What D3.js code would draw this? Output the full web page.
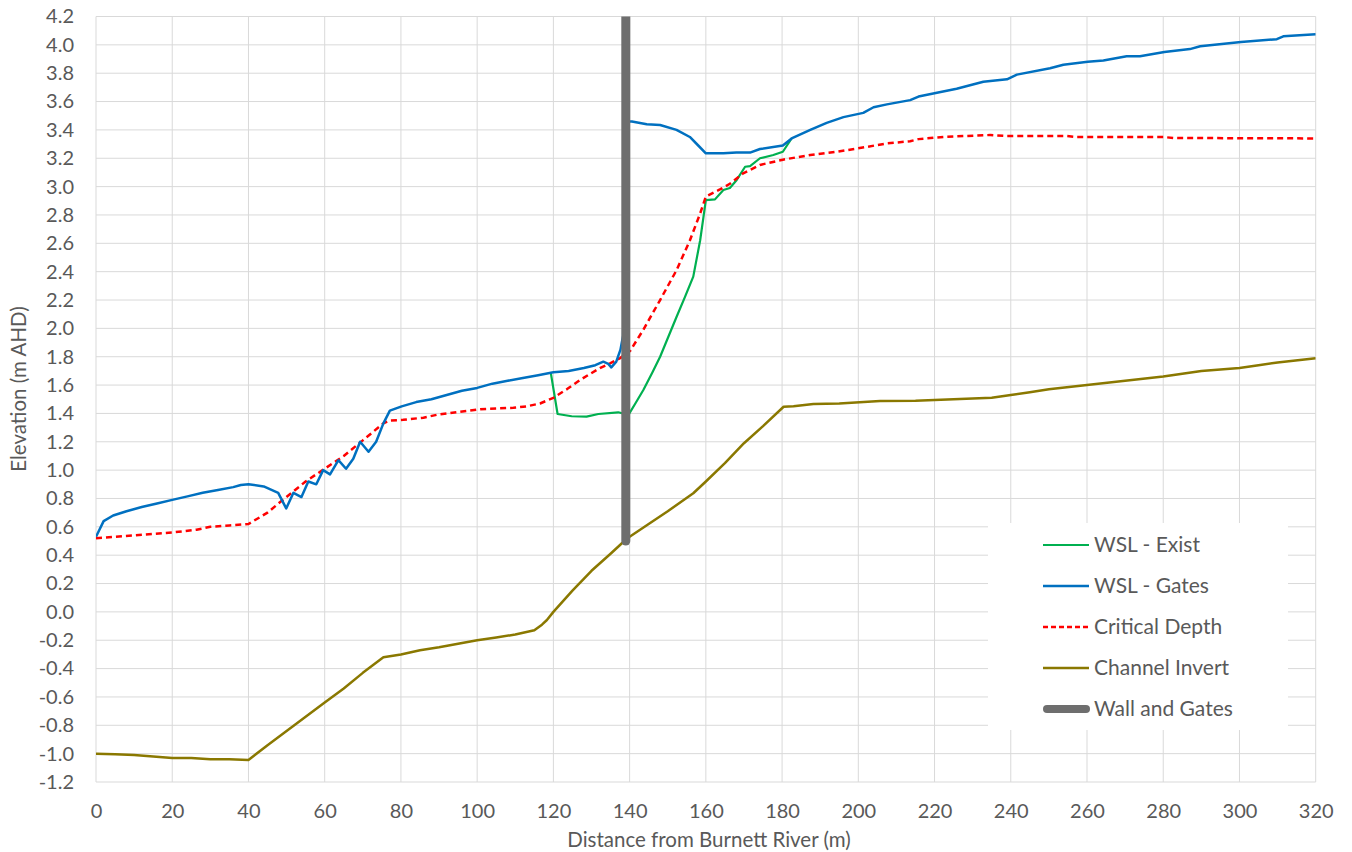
<!DOCTYPE html>
<html>
<head>
<meta charset="utf-8">
<script src="https://cdn.jsdelivr.net/npm/d3@7"></script>
<style>
  body { margin: 0; background: #fff; }
  svg text { font-family: Lato, "Liberation Sans", sans-serif; fill: #595959; }
</style>
</head>
<body>
<svg id="canvas"></svg>
<script>
// distance (m), elevation (m AHD)
const wslExist = [[119.3,1.69],[121.1,1.396],[124.8,1.38],[128.7,1.377],[131.8,1.396],[137,1.408],[139.7,1.39],[141.5,1.47],[143.6,1.565],[146,1.69],[148,1.80],[150,1.93],[152.3,2.08],[154.5,2.22],[156.7,2.365],[158.5,2.62],[160,2.905],[162.4,2.91],[164.6,2.976],[166.3,2.99],[168.1,3.047],[170.3,3.14],[171.6,3.145],[174.2,3.2],[177.7,3.223],[180.2,3.246],[182.5,3.34]];

const wslGates = [[0,0.53],[2,0.64],[4.5,0.68],[8,0.71],[12,0.74],[16,0.765],[20,0.79],[24,0.815],[28,0.84],[32,0.86],[36,0.88],[38,0.895],[40,0.90],[44,0.885],[47.8,0.84],[49.9,0.73],[51.8,0.84],[53.9,0.81],[55.7,0.92],[57.8,0.90],[59.6,1.00],[61.4,0.97],[63.6,1.07],[65.6,1.01],[67.5,1.08],[69.3,1.20],[71.5,1.13],[73.5,1.20],[75.4,1.33],[77.1,1.42],[80.2,1.45],[84,1.48],[88,1.50],[92,1.53],[96,1.56],[100,1.58],[104,1.61],[108,1.63],[112,1.65],[116,1.67],[120,1.69],[124,1.70],[128,1.72],[131,1.74],[133.1,1.765],[134.4,1.75],[135.2,1.725],[136.5,1.765],[137.6,1.85],[138.3,1.95],[139.2,3.46],[140.6,3.46],[144.5,3.44],[148,3.435],[152.3,3.40],[155.8,3.35],[158,3.29],[160,3.235],[164.6,3.235],[168,3.24],[171.6,3.24],[174.2,3.265],[180.2,3.29],[182.5,3.34],[187.4,3.40],[191.7,3.45],[196.1,3.49],[201.3,3.52],[204,3.56],[207.5,3.58],[213.6,3.61],[215.8,3.635],[220.3,3.66],[225.8,3.69],[232.8,3.74],[239,3.757],[241.6,3.79],[250.3,3.835],[253.8,3.86],[260.2,3.88],[264.3,3.89],[270.4,3.92],[273.9,3.92],[280.3,3.95],[287,3.97],[289.7,3.99],[300.4,4.02],[309.8,4.04],[311.5,4.06],[320,4.075]];

const criticalDepth = [[0,0.52],[10,0.54],[20,0.56],[26.4,0.58],[30,0.60],[35,0.61],[40,0.62],[45,0.70],[49,0.79],[55,0.92],[60,1.01],[65,1.10],[70,1.21],[75.4,1.33],[77.1,1.35],[80.6,1.355],[85.9,1.37],[89.4,1.39],[95,1.41],[100.8,1.43],[109.5,1.44],[113,1.45],[116.5,1.47],[120,1.51],[123.5,1.57],[127,1.636],[132.2,1.72],[135,1.755],[137.5,1.79],[140.1,1.84],[143.6,1.99],[148,2.20],[152.3,2.41],[155.8,2.62],[158.5,2.81],[160,2.93],[163.7,2.98],[166.3,3.02],[169.8,3.094],[174.2,3.153],[180.2,3.19],[187.4,3.223],[194.4,3.246],[202.2,3.28],[207.5,3.305],[213.6,3.32],[215.8,3.335],[223.2,3.352],[234.6,3.364],[239,3.357],[254.7,3.357],[257.3,3.35],[280,3.35],[282.7,3.343],[320,3.34]];

const channelInvert = [[0,-1.00],[5,-1.005],[10,-1.01],[15,-1.02],[20,-1.03],[25,-1.03],[30,-1.04],[35,-1.04],[40,-1.045],[45,-0.94],[50,-0.84],[55,-0.74],[60,-0.64],[65,-0.54],[70,-0.43],[75.4,-0.32],[80,-0.30],[85,-0.27],[90,-0.25],[95,-0.225],[100,-0.20],[105,-0.18],[110,-0.16],[115,-0.13],[117,-0.09],[118.3,-0.057],[120,0.0],[125,0.15],[130,0.29],[135,0.41],[138.4,0.495],[140,0.53],[145,0.62],[150,0.71],[156.7,0.837],[160,0.92],[165,1.05],[170,1.19],[175,1.31],[180.4,1.447],[183,1.45],[188.2,1.466],[195,1.47],[205.7,1.487],[215,1.49],[225,1.50],[235,1.51],[240,1.53],[245,1.55],[250,1.57],[260,1.60],[270,1.63],[280,1.66],[290,1.70],[300,1.72],[305,1.74],[310,1.76],[320,1.79]];

const wallGates = [[139.0,0.5],[139.0,4.4]];

const xTicks = d3.range(0, 321, 20);
const yTicks = d3.range(-1.2, 4.21, 0.2).map(v => Math.round(v * 10) / 10);

const legendNames = ["WSL - Exist", "WSL - Gates", "Critical Depth", "Channel Invert", "Wall and Gates"];

const width = 1352;
const height = 852;
const margin = { top: 16.5, right: 36.3, bottom: 70, left: 96 };
const chartWidth = width - margin.left - margin.right;
const chartHeight = height - margin.top - margin.bottom;

const svg = d3.select("#canvas")
  .attr("width", width)
  .attr("height", height);

const chartArea = svg.append("g")
  .attr("transform", `translate(${margin.left},${margin.top})`);

const x = d3.scaleLinear().domain([0, 320]).range([0, chartWidth]);
const y = d3.scaleLinear().domain([-1.2, 4.2]).range([chartHeight, 0]);

svg.append("defs").append("clipPath").attr("id", "plotClip")
  .append("rect").attr("width", chartWidth).attr("height", chartHeight);

// gridlines
chartArea.append("g")
  .selectAll("line.h")
  .data(yTicks)
  .enter().append("line")
  .attr("x1", 0).attr("x2", chartWidth)
  .attr("y1", d => y(d)).attr("y2", d => y(d))
  .attr("stroke", "#d9d9d9").attr("stroke-width", 1);

chartArea.append("g")
  .selectAll("line.v")
  .data(xTicks)
  .enter().append("line")
  .attr("y1", 0).attr("y2", chartHeight)
  .attr("x1", d => x(d)).attr("x2", d => x(d))
  .attr("stroke", "#d9d9d9").attr("stroke-width", 1);

// axes (tick labels only)
const xAxis = d3.axisBottom(x).tickValues(xTicks).tickSize(0).tickPadding(22).tickFormat(d3.format("d"));
const yAxis = d3.axisLeft(y).tickValues(yTicks).tickSize(0).tickPadding(22).tickFormat(d3.format(".1f"));

const gx = chartArea.append("g").attr("transform", `translate(0,${chartHeight})`).call(xAxis);
const gy = chartArea.append("g").call(yAxis);
[gx, gy].forEach(g => {
  g.select(".domain").remove();
  g.selectAll("text").attr("font-size", 20).attr("fill", "#595959")
    .style("font-family", "Lato, 'Liberation Sans', sans-serif");
});
gy.selectAll("text").text(d => d3.format(".1f")(d).replace("−", "-"));

const plot = chartArea.append("g").attr("clip-path", "url(#plotClip)");
const line = d3.line().x(d => x(d[0])).y(d => y(d[1]));

const series = [
  { data: channelInvert, color: "#8a7800", w: 2.5, dash: null },
  { data: wslExist, color: "#00b050", w: 2.2, dash: null },
  { data: criticalDepth, color: "#ff0000", w: 2.5, dash: "6,4" },
  { data: wslGates, color: "#0070c0", w: 2.5, dash: null },
  { data: wallGates, color: "#6e6e6e", w: 9, dash: null, cap: "round" }
];

series.forEach(s => {
  plot.append("path")
    .datum(s.data)
    .attr("d", line)
    .attr("fill", "none")
    .attr("stroke", s.color)
    .attr("stroke-width", s.w)
    .attr("stroke-linejoin", "round")
    .attr("stroke-linecap", s.cap || "butt")
    .attr("stroke-dasharray", s.dash);
});

// legend
const legend = svg.append("g").attr("transform", "translate(988,523)");
legend.append("rect").attr("width", 300).attr("height", 207).attr("fill", "#fff");

const legendStyles = [
  { color: "#00b050", w: 2.2, dash: null },
  { color: "#0070c0", w: 2.5, dash: null },
  { color: "#ff0000", w: 2.5, dash: "5,3" },
  { color: "#8a7800", w: 2.5, dash: null },
  { color: "#6e6e6e", w: 8, dash: null, cap: "round" }
];

legendNames.forEach((name, i) => {
  const row = legend.append("g").attr("transform", `translate(0,${22 + i * 41})`);
  const st = legendStyles[i];
  row.append("line")
    .attr("x1", st.cap ? 59 : 55).attr("x2", st.cap ? 98 : 101)
    .attr("y1", 0).attr("y2", 0)
    .attr("stroke", st.color).attr("stroke-width", st.w)
    .attr("stroke-linecap", st.cap || "butt")
    .attr("stroke-dasharray", st.dash);
  row.append("text")
    .attr("x", 106).attr("y", 0).attr("dy", "0.35em")
    .attr("font-size", 21)
    .text(name);
});

// axis titles
svg.append("text")
  .attr("x", 709)
  .attr("y", 847)
  .attr("text-anchor", "middle")
  .attr("font-size", 20.5)
  .text("Distance from Burnett River (m)");

svg.append("text")
  .attr("transform", `translate(26,${389}) rotate(-90)`)
  .attr("text-anchor", "middle")
  .attr("font-size", 20.5)
  .text("Elevation (m AHD)");
</script>
</body>
</html>
